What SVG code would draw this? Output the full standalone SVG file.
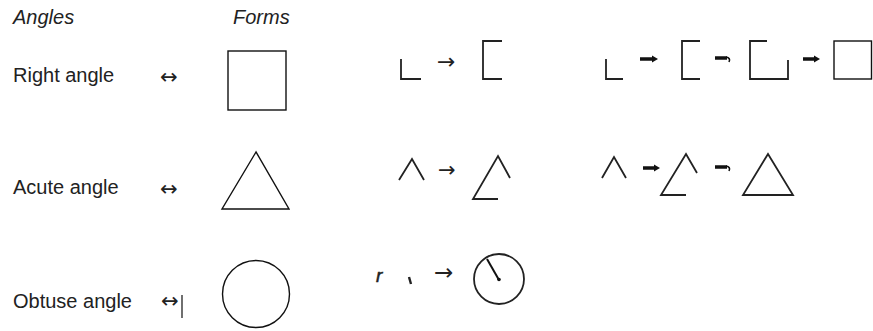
<svg xmlns="http://www.w3.org/2000/svg" width="873" height="331" viewBox="0 0 873 331">
<style>
.lbl{font-family:"Liberation Sans",Arial,sans-serif;font-size:20px;fill:#222}
.hdr{font-family:"Liberation Sans",Arial,sans-serif;font-size:20px;font-style:italic;fill:#222}
.sym{font-family:"DejaVu Sans",sans-serif;font-size:21px;fill:#222}
.shape{fill:none;stroke:#111;stroke-width:1.4}
.part{fill:none;stroke:#222;stroke-width:1.8}
.thin{fill:none;stroke:#222;stroke-width:1.3}
.bold{fill:none;stroke:#111;stroke-width:3.5}
.hook{fill:none;stroke:#111;stroke-width:1.6}
.head{fill:#111}
</style>
<rect width="873" height="331" fill="#fff"/>
<g id="headers">
<text class="hdr" x="13" y="24">Angles</text>
<text class="hdr" x="233" y="24">Forms</text>
</g>
<g id="row-right">
<text class="lbl" x="13" y="82">Right angle</text>
<text class="sym" x="160" y="84">↔</text>
<rect class="shape" x="228" y="51" width="58" height="59"/>
<path class="part" d="M401,59 V79 H421"/>
<path class="part" d="M502,41 H483 V79 H502"/>
<path class="part" d="M606,59 V79 H623"/>
<path class="part" d="M700,41 H682 V79 H700"/>
<path class="part" d="M767,41 H750 V79 H788 V60"/>
<rect class="shape" x="834" y="41" width="37.5" height="38"/>
</g>
<g id="row-acute">
<text class="lbl" x="13" y="194">Acute angle</text>
<text class="sym" x="160" y="196">↔</text>
<path class="shape" d="M256,152 L222,209 H289 Z"/>
<path class="part" d="M399,180 L412,159 L424,180"/>
<path class="part" d="M498,199 H473 L498,156 L510,178"/>
<path class="part" d="M602,178 L614,157 L626,178"/>
<path class="part" d="M686,195 H661 L686,154 L697,173"/>
<path class="part" d="M768,154 L743,195 H793 Z"/>
</g>
<g id="row-obtuse">
<text class="lbl" x="13" y="308">Obtuse angle</text>
<text class="sym" x="161" y="308">↔</text>
<line class="thin" x1="182" y1="295" x2="182" y2="318"/>
<circle class="shape" cx="256" cy="294" r="33.5"/>
<text class="hdr" x="376" y="282" style="font-size:19px;stroke:#222;stroke-width:0.5">r</text>
<path d="M409,277 L411,284" stroke="#222" stroke-width="2.4" fill="none"/>
<circle class="part" cx="499" cy="279" r="25"/>
<path d="M487,259 L499,280" stroke="#111" stroke-width="2" fill="none"/>
<circle cx="499" cy="279.5" r="1.8" fill="#111"/>
</g>
<g id="connectors">
<text class="sym" x="437" y="69" style="font-size:22px">→</text>
<text class="sym" x="438" y="177" style="font-size:21px">→</text>
<text class="sym" x="434" y="280" style="font-size:23px">→</text>
<line class="bold" x1="640" y1="59" x2="653" y2="59"/>
<path class="head" d="M652,55.5 L658,59 L652,62.5 Z"/>
<line class="bold" x1="715" y1="58" x2="727" y2="58"/>
<path class="hook" d="M726,57 Q731,58 729,62"/>
<line class="bold" x1="803" y1="59" x2="815" y2="59"/>
<path class="head" d="M814,55.5 L820,59 L814,62.5 Z"/>
<line class="bold" x1="643" y1="168" x2="655" y2="168"/>
<path class="head" d="M654,164.5 L660,168 L654,171.5 Z"/>
<line class="bold" x1="715" y1="167" x2="727" y2="167"/>
<path class="hook" d="M726,166 Q731,167 729,171"/>
</g>
</svg>
